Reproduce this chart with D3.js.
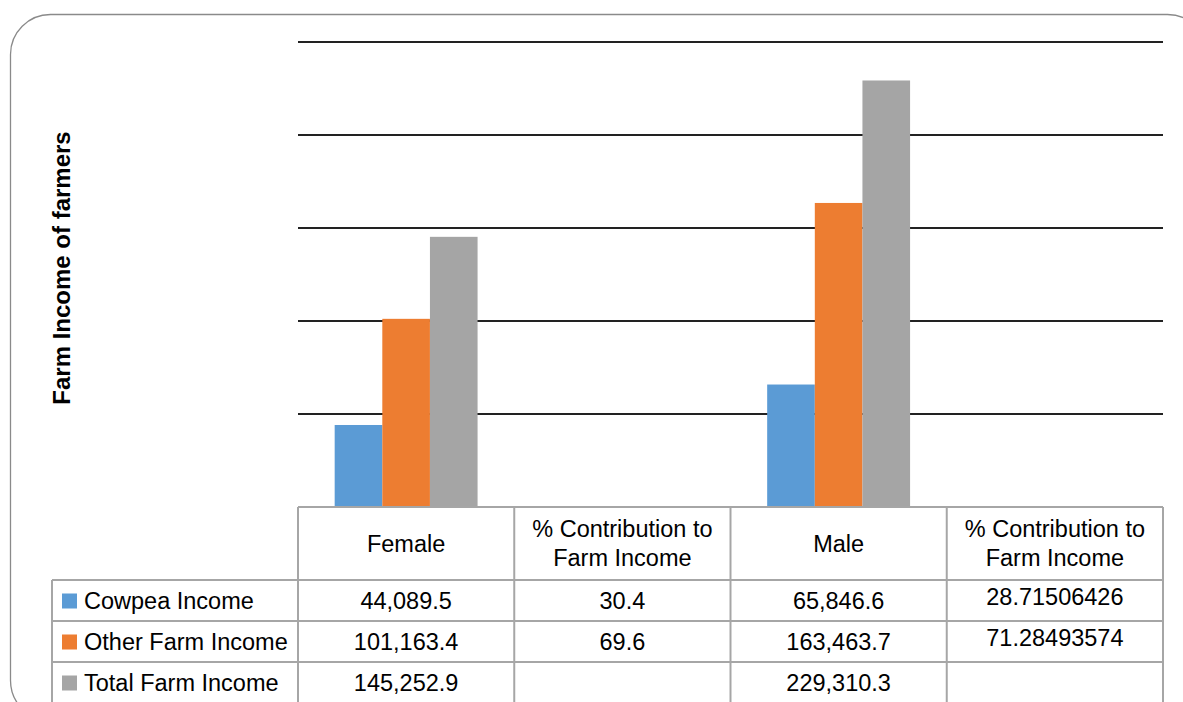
<!DOCTYPE html>
<html>
<head>
<meta charset="utf-8">
<script src="https://cdn.jsdelivr.net/npm/d3@7"></script>
<style>
  html, body { margin: 0; padding: 0; background: #ffffff; }
  svg { display: block; font-family: "Liberation Sans", Arial, sans-serif; }
</style>
</head>
<body>
<svg id="chart" width="1183" height="702"></svg>
<script>
// Farm income by gender, with the data table shown under the columns
const categories = ["Female", "% Contribution to Farm Income", "Male", "% Contribution to Farm Income"];
const seriesNames = ["Cowpea Income", "Other Farm Income", "Total Farm Income"];
const cowpeaIncome = [44089.5, 30.4, 65846.6, 28.71506426];
const otherFarmIncome = [101163.4, 69.6, 163463.7, 71.28493574];
const totalFarmIncome = [145252.9, null, 229310.3, null];
const yTicks = [0, 50000, 100000, 150000, 200000, 250000];
const yTitle = "Farm Income of farmers";

const seriesValues = [cowpeaIncome, otherFarmIncome, totalFarmIncome];
const colors = ["#5b9bd5", "#ed7d31", "#a5a5a5"];

const svg = d3.select("#chart");

// frame around the whole chart
svg.append("rect")
  .attr("x", 10.5).attr("y", 14.5)
  .attr("width", 1197).attr("height", 706)
  .attr("rx", 40).attr("ry", 40)
  .attr("fill", "none")
  .attr("stroke", "#8a8a8a")
  .attr("stroke-width", 1.3);

const plot = { left: 298, right: 1163, top: 42, base: 507 };
const tbl = { legendLeft: 52, headerBottom: 580, rowH: 41 };

const x0 = d3.scaleBand()
  .domain(d3.range(categories.length))
  .range([plot.left, plot.right])
  .padding(0);

const x1 = d3.scaleBand()
  .domain(d3.range(seriesNames.length))
  .range([0, x0.bandwidth()])
  .paddingInner(0)
  .paddingOuter(0.77);

const y = d3.scaleLinear()
  .domain([0, d3.max(yTicks)])
  .range([plot.base, plot.top]);

// horizontal gridlines
svg.append("g")
  .selectAll("line")
  .data(yTicks.filter(t => t > 0))
  .join("line")
  .attr("x1", plot.left).attr("x2", plot.right)
  .attr("y1", d => Math.round(y(d))).attr("y2", d => Math.round(y(d)))
  .attr("stroke", "#222")
  .attr("stroke-width", 2);

// clustered columns
const bars = [];
seriesValues.forEach((vals, s) => {
  vals.forEach((v, c) => {
    if (v != null) bars.push({ s, c, v });
  });
});
svg.append("g")
  .selectAll("rect")
  .data(bars)
  .join("rect")
  .attr("x", d => x0(d.c) + x1(d.s))
  .attr("width", x1.bandwidth())
  .attr("y", d => y(d.v))
  .attr("height", d => y(0) - y(d.v))
  .attr("fill", d => colors[d.s]);

// y-axis title
svg.append("text")
  .attr("transform", `translate(70, 268) rotate(-90)`)
  .attr("text-anchor", "middle")
  .attr("font-size", 24)
  .attr("font-weight", "bold")
  .attr("fill", "#000")
  .text(yTitle);

// data table
const gridColor = "#a6a6a6";
const tableBottom = tbl.headerBottom + tbl.rowH * seriesNames.length;
const tg = svg.append("g");
const fs = 23.5;

// horizontal rules
tg.append("line")
  .attr("x1", plot.left).attr("x2", plot.right)
  .attr("y1", plot.base).attr("y2", plot.base)
  .attr("stroke", gridColor).attr("stroke-width", 2);
d3.range(seriesNames.length + 1).forEach(i => {
  const yy = tbl.headerBottom + i * tbl.rowH;
  tg.append("line")
    .attr("x1", tbl.legendLeft).attr("x2", plot.right)
    .attr("y1", yy).attr("y2", yy)
    .attr("stroke", gridColor).attr("stroke-width", 2);
});
// vertical rules
tg.append("line")
  .attr("x1", tbl.legendLeft).attr("x2", tbl.legendLeft)
  .attr("y1", tbl.headerBottom).attr("y2", tableBottom)
  .attr("stroke", gridColor).attr("stroke-width", 2);
d3.range(categories.length + 1).forEach(i => {
  const xx = i < categories.length ? x0(i) : plot.right;
  tg.append("line")
    .attr("x1", xx).attr("x2", xx)
    .attr("y1", plot.base).attr("y2", tableBottom)
    .attr("stroke", gridColor).attr("stroke-width", 2);
});

// header labels, wrapped to the column width
const headerMid = (plot.base + tbl.headerBottom) / 2;
categories.forEach((label, c) => {
  const t = tg.append("text")
    .attr("x", x0(c) + x0.bandwidth() / 2)
    .attr("text-anchor", "middle")
    .attr("font-size", fs)
    .attr("fill", "#000");
  const words = label.split(" ");
  const lines = [];
  let cur = [];
  const probe = tg.append("text").attr("font-size", fs);
  words.forEach(w => {
    const trial = cur.concat([w]).join(" ");
    probe.text(trial);
    if (cur.length && probe.node().getComputedTextLength() > x0.bandwidth() - 20) {
      lines.push(cur.join(" "));
      cur = [w];
    } else {
      cur.push(w);
    }
  });
  lines.push(cur.join(" "));
  probe.remove();
  const lh = 29;
  lines.forEach((ln, i) => {
    t.append("tspan")
      .attr("x", x0(c) + x0.bandwidth() / 2)
      .attr("y", headerMid + (i - (lines.length - 1) / 2) * lh + 8)
      .text(ln);
  });
});

// legend keys and values
const fmtIncome = d3.format(",.1f");
seriesNames.forEach((name, s) => {
  const rowMid = tbl.headerBottom + s * tbl.rowH + tbl.rowH / 2;
  tg.append("rect")
    .attr("x", 62).attr("y", rowMid - 7)
    .attr("width", 15).attr("height", 15)
    .attr("fill", colors[s]);
  tg.append("text")
    .attr("x", 84).attr("y", rowMid + 8)
    .attr("font-size", fs)
    .attr("fill", "#000")
    .text(name);
  seriesValues[s].forEach((v, c) => {
    if (v == null) return;
    const label = c % 2 === 0 ? fmtIncome(v) : String(v);
    const lift = c === 3 ? -4 : 0;
    tg.append("text")
      .attr("x", x0(c) + x0.bandwidth() / 2)
      .attr("y", rowMid + 8 + lift)
      .attr("text-anchor", "middle")
      .attr("font-size", fs)
      .attr("fill", "#000")
      .text(label);
  });
});
</script>
</body>
</html>
